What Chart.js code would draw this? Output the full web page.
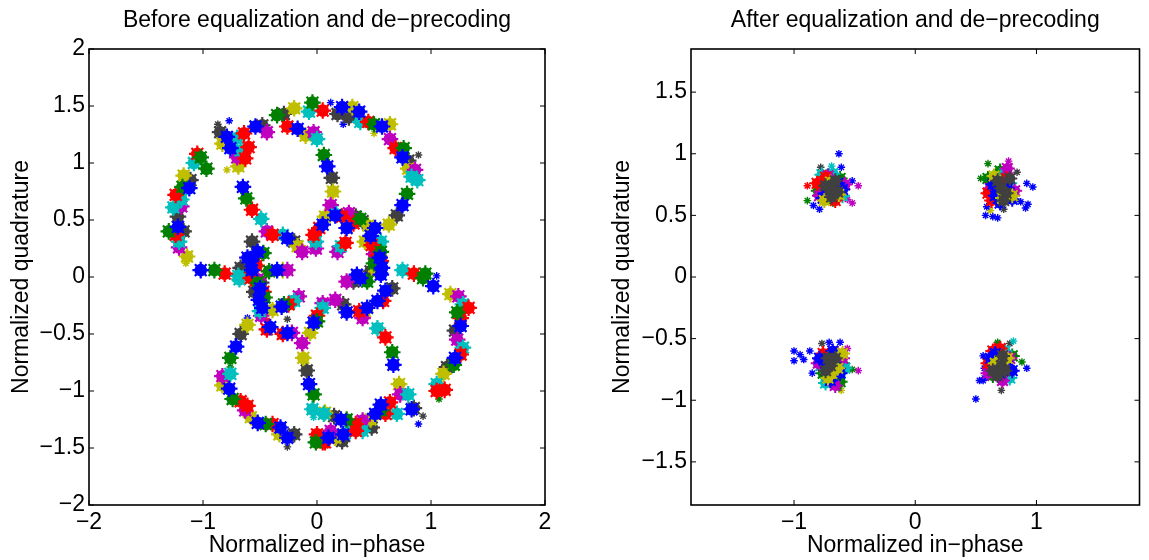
<!DOCTYPE html>
<html>
<head>
<meta charset="utf-8">
<script src="https://cdn.jsdelivr.net/npm/chart.js@4.4.1/dist/chart.umd.min.js"></script>
<style>
  body { margin: 0; background: #fff; }
  #wrap { position: relative; width: 1149px; height: 560px; }
  .panel { position: absolute; top: 0; height: 560px; }
  #leftPanel { left: 0; width: 575px; }
  #rightPanel { left: 575px; width: 574px; }
</style>
</head>
<body>
<div id="wrap">
  <div class="panel" id="leftPanel"><canvas id="before"></canvas></div>
  <div class="panel" id="rightPanel"><canvas id="after"></canvas></div>
</div>
<script>
// tick labels
const beforeXTicks = [-2, -1, 0, 1, 2];
const beforeYTicks = [-2, -1.5, -1, -0.5, 0, 0.5, 1, 1.5, 2];
const afterXTicks = [-1, 0, 1];
const afterYTicks = [-1.5, -1, -0.5, 0, 0.5, 1, 1.5];

// before equalization: clumps of symbols per series
const beforeBlue = [
  [-0.79,1.23],[-0.54,1.32],[-0.17,1.30],[-0.76,1.13],[-1.12,0.78],[-1.22,0.44],[-1.02,0.06],[-0.65,0.79],
  [-0.26,0.34],[-0.52,0.22],[-0.61,0.17],[-0.35,0.06],[-0.57,0.06],[0.22,1.49],[0.37,1.45],[0.57,1.32],
  [0.75,1.05],[0.09,0.97],[0.75,0.63],[0.05,0.46],[0.16,0.54],[0.26,0.43],[0.51,0.43],[0.47,0.36],
  [0.57,0.08],[0.35,0.02],[-0.58,0.14],[-0.48,-0.27],[-0.51,-0.20],[-0.50,-0.10],[-0.31,-0.26],[-0.41,-0.44],
  [-0.26,-0.49],[-0.03,-0.40],[-0.71,-0.61],[-0.77,-0.98],[-0.52,-1.28],[-0.32,-1.32],[-0.26,-1.41],[-0.07,-0.94],
  [1.02,-0.08],[0.38,-0.01],[0.56,0.02],[0.60,-0.12],[0.26,-0.31],[0.44,-0.27],[0.53,-0.21],[0.67,-0.77],
  [1.26,-0.43],[1.21,-0.71],[0.56,-1.12],[0.83,-1.16],[0.51,-1.20],[0.21,-1.25],[0.23,-1.38],[0.10,-1.41],[0.55,0.17]
];
const beforeGreen = [
  [-0.35,1.42],[-0.04,1.53],[-1.02,1.05],[-0.97,0.95],[-1.18,0.79],[-1.30,0.40],[-0.90,0.06],[-0.62,0.69],
  [-0.47,0.21],[-0.42,0.05],[0.50,1.34],[0.76,1.13],[0.06,1.07],[0.79,0.73],[0.56,0.22],[0.95,0.03],
  [0.50,0.12],[0.38,0.51],[-0.52,-0.05],[-0.46,-0.18],[-0.29,-0.24],[-0.76,-0.71],[-0.74,-1.07],[-0.45,-1.29],
  [-0.03,-1.03],[-0.01,-1.45],[0.93,-0.01],[0.44,-0.04],[0.66,-0.66],[1.23,-0.31],[1.20,-0.77],[0.56,-1.17],
  [0.26,-1.25],[0.00,-0.39]
];
const beforeRed = [
  [-0.64,1.26],[-0.26,1.32],[0.05,1.46],[-0.60,1.14],[-0.63,1.04],[-1.24,0.72],[-1.24,0.37],[-0.81,0.03],
  [-0.57,0.59],[-0.39,0.37],[0.45,1.36],[0.69,1.13],[0.02,0.43],[-0.03,0.37],[0.25,0.30],[0.22,0.53],
  [0.32,0.47],[0.48,0.28],[0.53,0.19],[0.54,0.12],[0.85,0.03],[0.56,0.14],[-0.58,-0.01],[-0.53,0.10],
  [-0.47,-0.13],[-0.25,-0.24],[-0.44,-0.46],[-0.30,-0.50],[0.00,-0.34],[-0.67,-1.09],[-0.61,-1.13],[-0.39,-1.29],
  [0.00,-1.38],[0.07,-1.45],[0.58,-0.21],[0.37,-0.30],[0.60,-0.53],[1.33,-0.27],[1.26,-0.36],[1.26,-0.68],
  [1.05,-1.00],[1.12,-0.99],[0.64,-1.10],[0.60,-1.20],[0.34,-1.29],[0.34,-1.35],[0.05,-1.45],[-1.05,1.08]
];
const beforeCyan = [
  [-0.70,1.22],[-0.07,1.45],[0.00,1.21],[-0.67,1.11],[-1.08,1.00],[-1.19,0.68],[-1.26,0.61],[-1.21,0.31],
  [-0.69,0.01],[-0.49,0.51],[-0.30,0.37],[0.38,1.36],[0.83,0.88],[0.88,0.85],[-0.01,0.31],[0.21,0.27],
  [0.17,0.55],[0.56,0.31],[0.75,0.06],[-0.68,-0.02],[-0.20,-0.21],[-0.76,-0.85],[-0.04,-1.16],[0.06,-1.20],
  [0.53,-0.45],[1.28,-0.24],[1.28,-0.62],[1.05,-0.94],[0.80,-1.03],[0.70,-1.20],[0.40,-1.35],[0.29,-1.35],
  [0.05,-0.27],[-0.50,-0.30]
];
const beforeMagenta = [
  [-0.44,1.27],[-0.03,1.27],[-0.70,1.05],[-1.19,0.62],[-1.21,0.26],[-0.44,0.40],[-0.13,0.22],[-0.26,0.06],
  [0.64,1.21],[0.86,0.94],[0.12,0.63],[-0.01,0.25],[0.18,0.22],[0.28,0.56],[0.50,0.20],[-0.49,-0.34],
  [-0.52,-0.02],[-0.16,-0.17],[-0.22,-0.49],[-0.13,-0.58],[0.05,-0.23],[-0.83,-0.87],[-0.63,-1.17],[0.26,-0.04],
  [0.16,-0.20],[0.40,-0.36],[1.24,-0.17],[1.23,-0.55],[0.73,-1.03],[0.40,-1.26],[0.12,-1.35]
];
const beforeYellow = [
  [-0.20,1.48],[-0.10,1.24],[-0.83,1.17],[-0.69,0.97],[-1.17,0.89],[-1.14,0.18],[-0.17,0.27],[-0.30,0.06],
  [0.31,1.49],[0.64,1.34],[0.80,0.95],[0.14,0.75],[0.63,0.46],[0.07,0.53],[0.42,0.31],[0.45,0.45],
  [0.52,0.05],[-0.39,-0.29],[-0.06,-0.49],[-0.61,-0.42],[-0.83,-0.95],[-0.58,-1.23],[-0.33,-1.38],[-0.12,-0.71],
  [0.07,-1.19],[0.47,-1.25],[0.16,-1.41],[1.17,-0.15],[1.11,-0.85],[0.72,-0.94],[0.42,-0.30]
];
const beforeGray = [
  [-0.85,1.27],[-0.48,1.33],[-0.29,1.43],[-1.11,0.85],[-1.22,0.53],[-1.17,0.40],[-0.20,0.31],[-0.57,0.31],
  [-0.55,0.17],[-0.67,0.08],[0.18,1.43],[0.28,1.40],[0.80,1.02],[0.13,0.87],[0.70,0.54],[0.34,0.53],
  [0.40,0.49],[0.47,0.05],[0.52,0.26],[-0.55,-0.13],[-0.49,-0.05],[-0.67,-0.50],[-0.20,-1.38],[-0.09,-0.82],
  [0.32,-0.04],[0.23,-0.24],[1.21,-0.47],[1.14,-0.79],[0.85,-1.15],[0.48,-1.32],[0.15,-1.22],[0.22,-1.44],[0.66,-0.10]
];
// single stray symbols: x, y, series
const beforeLone = [
  [-0.77,1.37,'blue'],[0.12,1.53,'blue'],[0.23,1.34,'blue'],[1.05,0.01,'blue'],[-0.61,-0.36,'blue'],[0.89,-1.29,'blue'],
  [-0.76,-0.79,'green'],[1.07,-1.07,'green'],
  [-0.44,-0.38,'red'],
  [-0.03,-1.23,'cyan'],
  [-0.79,0.94,'yellow'],[-1.15,0.12,'yellow'],[0.50,1.26,'yellow'],
  [0.89,1.07,'gray'],[-0.26,-0.37,'gray'],[-0.26,-1.49,'gray'],[0.93,-1.22,'gray'],[-0.87,1.34,'gray']
];

// after equalization: four tight clouds
const afterBlue = [
  [-0.73,0.68],[-0.64,0.76],[-0.60,0.71],[-0.76,0.64],
  [0.66,0.66],[0.76,0.72],[0.80,0.63],[0.70,0.60],[0.64,0.75],
  [-0.68,-0.60],[-0.74,-0.70],[-0.62,-0.78],[-0.79,-0.66],[-0.66,-0.70],[-0.70,-0.84],
  [0.76,-0.72],[0.70,-0.78],[0.62,-0.66],[0.80,-0.76],[0.66,-0.62]
];
const afterGreen = [
  [-0.80,0.70],[-0.68,0.63],[-0.62,0.80],
  [0.60,0.80],[0.70,0.86],[0.66,0.74],
  [-0.62,-0.85],[-0.76,-0.78],[-0.60,-0.70],
  [0.64,-0.80],[0.80,-0.64]
];
const afterRed = [
  [-0.81,0.76],[-0.74,0.81],[-0.66,0.62],
  [0.60,0.68],[0.63,0.62],[0.75,0.80],
  [-0.64,-0.62],[-0.76,-0.62],[-0.70,-0.66],
  [0.64,-0.60],[0.70,-0.58],[0.60,-0.70]
];
const afterCyan = [
  [-0.77,0.83],[-0.68,0.84],[-0.60,0.66],
  [0.74,0.84],[0.78,0.76],[0.68,0.70],
  [-0.74,-0.86],[-0.58,-0.74],[-0.78,-0.72],
  [0.74,-0.60],[0.66,-0.74],[0.78,-0.82]
];
const afterMagenta = [
  [-0.72,0.82],[-0.58,0.75],[-0.79,0.66],
  [0.62,0.72],[0.76,0.88],[0.82,0.70],
  [-0.80,-0.70],[-0.60,-0.66],[-0.66,-0.88],
  [0.78,-0.66],[0.60,-0.78],[0.72,-0.84]
];
const afterYellow = [
  [-0.75,0.62],[-0.63,0.67],[-0.70,0.77],
  [0.72,0.64],[0.80,0.66],[0.65,0.82],
  [-0.69,-0.78],[-0.64,-0.74],[-0.72,-0.82],[-0.60,-0.62],
  [0.70,-0.68],[0.76,-0.66],[0.66,-0.70]
];
const afterGray = [
  [-0.70,0.71],[-0.66,0.78],[-0.74,0.74],[-0.64,0.69],[-0.69,0.65],
  [0.71,0.72],[0.75,0.68],[0.68,0.78],[0.73,0.62],[0.78,0.80],
  [-0.70,-0.72],[-0.74,-0.76],[-0.66,-0.66],[-0.72,-0.66],
  [0.71,-0.72],[0.68,-0.80],[0.74,-0.76],[0.72,-0.64],[0.64,-0.76]
];
const afterLone = [
  [-0.63,1.00,'blue'],[-0.61,0.89,'blue'],[-0.52,0.78,'blue'],[-0.84,0.58,'blue'],[-0.79,0.55,'blue'],
  [0.92,0.76,'blue'],[0.97,0.73,'blue'],[0.87,0.61,'blue'],[0.93,0.59,'blue'],[0.91,0.56,'blue'],
  [0.59,0.57,'blue'],[0.58,0.50,'blue'],[0.64,0.49,'blue'],[0.68,0.48,'blue'],
  [-1.00,-0.60,'blue'],[-1.00,-0.68,'blue'],[-0.95,-0.63,'blue'],[-0.92,-0.67,'blue'],[-0.87,-0.60,'blue'],
  [-0.62,-0.53,'blue'],[-0.71,-0.53,'blue'],[-0.85,-0.78,'blue'],
  [0.50,-0.99,'blue'],[0.53,-0.84,'blue'],[0.56,-0.84,'blue'],[0.57,-0.82,'blue'],[0.92,-0.74,'blue'],[0.56,-0.64,'blue'],[0.57,-0.74,'blue'],
  [-0.78,0.89,'gray'],[0.73,0.55,'gray'],[0.84,0.85,'gray'],[-0.77,-0.54,'gray'],[0.71,-0.92,'gray'],[0.78,-0.54,'gray'],
  [-0.47,0.74,'magenta'],[-0.52,0.60,'magenta'],[-0.56,0.63,'magenta'],[0.77,0.94,'magenta'],[-0.47,-0.76,'magenta'],[-0.56,-0.58,'magenta'],
  [-0.89,0.62,'green'],[0.54,0.80,'green'],[0.60,0.92,'green'],[-0.63,-0.90,'green'],[-0.52,-0.75,'green'],[0.68,-0.53,'green'],[0.88,-0.69,'green'],
  [-0.89,0.74,'red'],[0.67,-0.55,'red'],
  [-0.69,0.90,'cyan'],[0.81,-0.52,'cyan'],
  [0.62,0.54,'yellow'],[-0.61,-0.92,'yellow']
];

const COLORS = {
  blue: '#0000ff', green: '#008000', red: '#ff0000', cyan: '#00bfbf',
  magenta: '#bf00bf', yellow: '#bfbf00', gray: '#404040'
};
const FONT = '"Liberation Sans", Arial, Helvetica, sans-serif';

const toXY = arr => arr.map(p => ({ x: p[0], y: p[1] }));
const fmt = v => String(v).replace('-', '\u2212');

// first group ends up on top (chart.js paints dataset 0 last)
function pointSets(groups, lone, blob) {
  const sets = [];
  groups.forEach(([name, pts]) => {
    const c = COLORS[name];
    sets.push({ data: toXY(pts), pointStyle: 'circle', pointRadius: blob.r,
      pointBackgroundColor: c, pointBorderColor: c, pointBorderWidth: 0 });
    sets.push({ data: toXY(pts), pointStyle: 'star', pointRadius: blob.star,
      pointBackgroundColor: c, pointBorderColor: c, pointBorderWidth: blob.w });
  });
  Object.keys(COLORS).forEach(name => {
    const c = COLORS[name];
    const pts = lone.filter(p => p[2] === name);
    if (pts.length) {
      sets.push({ data: toXY(pts), pointStyle: 'star', pointRadius: 3.8,
        pointBackgroundColor: c, pointBorderColor: c, pointBorderWidth: 1.4 });
    }
  });
  return sets;
}

// matlab style box with inward ticks on all sides
const boxTicks = {
  id: 'boxTicks',
  afterDraw(chart) {
    const { ctx, chartArea: a, scales: { x, y } } = chart;
    ctx.save();
    ctx.strokeStyle = '#000';
    ctx.lineWidth = 1;
    ctx.beginPath();
    x.ticks.forEach(t => {
      const px = x.getPixelForValue(t.value);
      ctx.moveTo(px, a.bottom); ctx.lineTo(px, a.bottom - 5);
      ctx.moveTo(px, a.top); ctx.lineTo(px, a.top + 5);
    });
    y.ticks.forEach(t => {
      const py = y.getPixelForValue(t.value);
      ctx.moveTo(a.left, py); ctx.lineTo(a.left + 5, py);
      ctx.moveTo(a.right, py); ctx.lineTo(a.right - 5, py);
    });
    ctx.stroke();
    ctx.lineWidth = 1.6;
    ctx.strokeRect(a.left, a.top, a.right - a.left, a.bottom - a.top);
    ctx.restore();
  }
};

function makeChart(id, o) {
  const font = { family: FONT, size: 23 };
  return new Chart(document.getElementById(id), {
    type: 'scatter',
    data: { datasets: o.datasets },
    options: {
      responsive: true,
      maintainAspectRatio: false,
      animation: false,
      events: [],
      layout: { padding: { left: 0, right: o.padRight, top: 0, bottom: 0 } },
      plugins: { legend: { display: false }, tooltip: { enabled: false } },
      scales: {
        x: {
          type: 'linear', position: 'bottom', min: o.min, max: o.max,
          afterBuildTicks: s => { s.ticks = o.xTicks.map(v => ({ value: v })); },
          afterFit: s => { s.height = 55; },
          grid: { display: false, drawTicks: false },
          border: { display: false },
          ticks: { font, color: '#000', padding: 4, maxRotation: 0, autoSkip: false, callback: fmt },
          title: { display: true, text: 'Normalized in\u2212phase', font, color: '#000', padding: { top: 0, bottom: 1 } }
        },
        y: {
          type: 'linear', position: 'left', min: o.min, max: o.max,
          afterBuildTicks: s => { s.ticks = o.yTicks.map(v => ({ value: v })); },
          afterFit: s => { s.width = o.yWidth; },
          grid: { display: false, drawTicks: false },
          border: { display: false },
          ticks: { font, color: '#000', padding: 4, autoSkip: false, callback: fmt },
          title: { display: true, text: 'Normalized quadrature', font, color: '#000', padding: { top: o.yTitlePad, bottom: 0 } }
        },
        top: {
          type: 'linear', position: 'top', min: o.min, max: o.max,
          afterFit: s => { s.height = 49; },
          grid: { display: false, drawTicks: false },
          border: { display: false },
          ticks: { display: false },
          title: { display: true, text: o.title, font, color: '#000', padding: { top: 7, bottom: 0 } }
        }
      }
    },
    plugins: [boxTicks]
  });
}

makeChart('before', {
  title: 'Before equalization and de\u2212precoding',
  min: -2, max: 2, xTicks: beforeXTicks, yTicks: beforeYTicks,
  yWidth: 89, yTitlePad: 8, padRight: 30,
  datasets: pointSets([
    ['blue', beforeBlue], ['green', beforeGreen], ['red', beforeRed], ['cyan', beforeCyan],
    ['magenta', beforeMagenta], ['yellow', beforeYellow], ['gray', beforeGray]
  ], beforeLone, { r: 6.3, star: 8.3, w: 2.2 })
});

makeChart('after', {
  title: 'After equalization and de\u2212precoding',
  min: -1.85, max: 1.85, xTicks: afterXTicks, yTicks: afterYTicks,
  yWidth: 116, yTitlePad: 34, padRight: 2,
  datasets: pointSets([
    ['gray', afterGray], ['yellow', afterYellow], ['blue', afterBlue], ['red', afterRed],
    ['magenta', afterMagenta], ['cyan', afterCyan], ['green', afterGreen]
  ], afterLone, { r: 5.5, star: 7.5, w: 2 })
});
</script>
</body>
</html>
